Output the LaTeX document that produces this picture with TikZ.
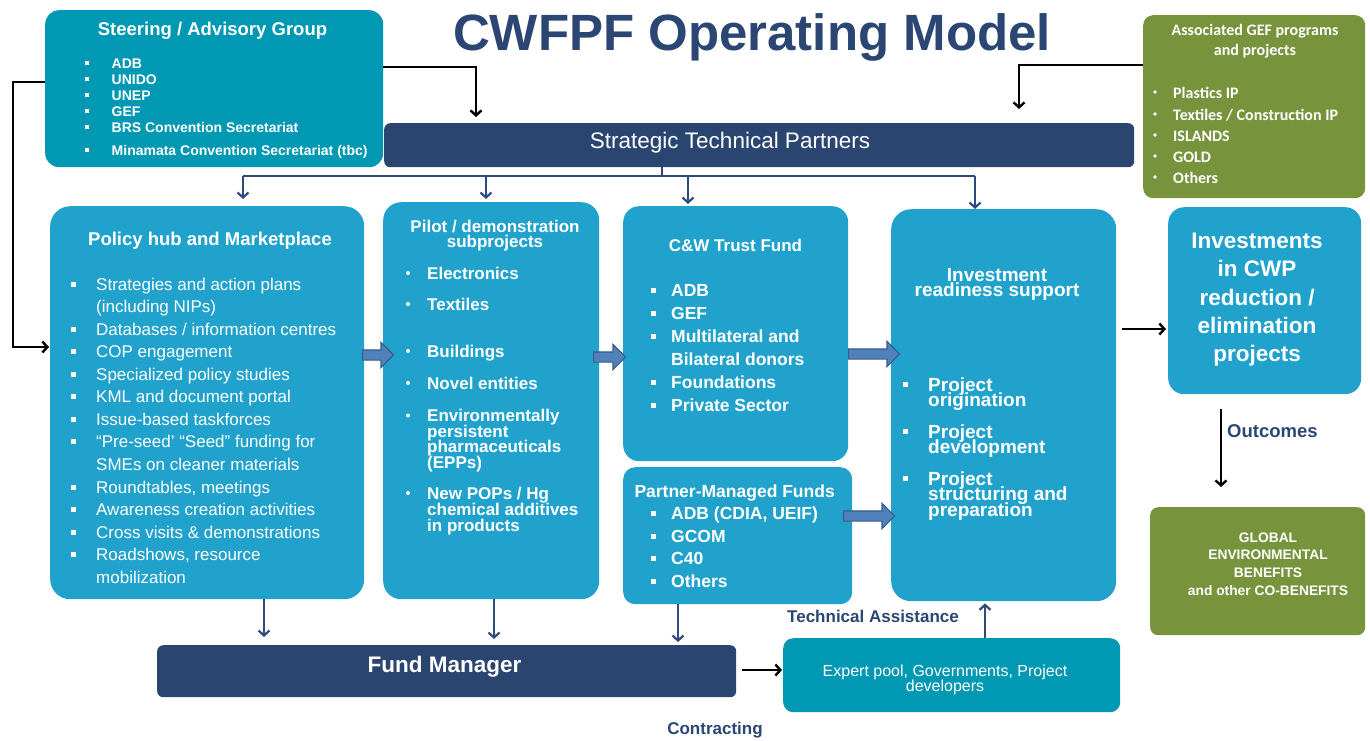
\documentclass[tikz,border=0pt]{standalone}
\usepackage{fontspec}
\setmainfont{Liberation Sans}
\newfontfamily\calfont{Carlito}
\usetikzlibrary{arrows.meta,shapes.arrows}

\definecolor{navy}{RGB}{42,69,112}
\definecolor{titlenavy}{RGB}{43,70,115}
\definecolor{tealbox}{RGB}{0,152,178}
\definecolor{skyblue}{RGB}{32,162,205}
\definecolor{olive}{RGB}{119,147,60}
\definecolor{linknavy}{RGB}{47,75,124}
\definecolor{blockfill}{RGB}{79,129,189}
\definecolor{blockedge}{RGB}{56,93,138}

\tikzset{
  box/.style={inner sep=0pt, anchor=north west, draw=none},
  wl/.style={text=white, inner sep=0pt, anchor=base west},
  wc/.style={text=white, inner sep=0pt, anchor=base},
  blackarrow/.style={draw=black, line width=2.7pt,
    -{Straight Barb[length=5pt,width=11pt,line width=2.4pt]}},
  navyarrow/.style={draw=linknavy, line width=2.4pt,
    -{Straight Barb[length=5pt,width=11pt,line width=2.2pt]}},
  navylink/.style={draw=linknavy, line width=2.4pt},
  blockarr/.style={single arrow, fill=blockfill, draw=blockedge, line width=1.2pt,
    inner sep=4.5pt, minimum width=0pt, single arrow head extend=7.5pt,
    single arrow head indent=0pt, anchor=tail},
}

\begin{document}
\begin{tikzpicture}[x=1pt,y=-1pt]
\useasboundingbox (0,0) rectangle (1370,740);
\fill[white] (0,0) rectangle (1370,740);

% ---------- title ----------
\node[anchor=base, inner sep=0pt, text=titlenavy,
      font=\fontsize{51}{51}\selectfont\bfseries] (title) at (752,50) {CWFPF Operating Model};

% ---------- boxes ----------
\node[box, fill=tealbox, rounded corners=14pt, minimum width=338pt, minimum height=157pt] (steer) at (45,10) {};
\node[box, fill=navy, rounded corners=6pt, minimum width=750pt, minimum height=44pt] (stp) at (384,123) {};
\node[box, fill=olive, rounded corners=10pt, minimum width=222pt, minimum height=183pt] (green) at (1143,15) {};
\node[box, fill=skyblue, rounded corners=20pt, minimum width=314pt, minimum height=393pt] (pol) at (50,206) {};
\node[box, fill=skyblue, rounded corners=18pt, minimum width=216pt, minimum height=397pt] (pil) at (383,202) {};
\node[box, fill=skyblue, rounded corners=16pt, minimum width=225pt, minimum height=255pt] (cw) at (623,206) {};
\node[box, fill=skyblue, rounded corners=12pt, minimum width=229pt, minimum height=137pt] (pmf) at (623,467) {};
\node[box, fill=skyblue, rounded corners=20pt, minimum width=225pt, minimum height=392pt] (ir) at (891,209) {};
\node[box, fill=skyblue, rounded corners=16pt, minimum width=193pt, minimum height=187pt] (inv) at (1168,207) {};
\node[box, fill=olive, rounded corners=8pt, minimum width=215pt, minimum height=128pt] (geb) at (1150,507) {};
\node[box, fill=navy, rounded corners=6pt, minimum width=579pt, minimum height=52pt] (fm) at (157,645) {};
\node[box, fill=tealbox, rounded corners=10pt, minimum width=337pt, minimum height=74pt] (exp) at (783,638) {};

% ---------- Steering / Advisory Group ----------
\node[wc, font=\fontsize{18.5}{18.5}\selectfont\bfseries] (steer-t) at (212.5,35) {Steering / Advisory Group};
\foreach \yy/\txt [count=\k] in {68/ADB, 84/UNIDO, 100/UNEP, 116/GEF,
    132/{BRS Convention Secretariat}, 155/{Minamata Convention Secretariat (tbc)}}{
  \node[wl, font=\fontsize{14}{14}\selectfont\bfseries] (steer-\k) at (111.5,\yy) {\txt};
  \fill[white] (85,\yy-7) rectangle ++(4,4);
}

% ---------- Strategic Technical Partners ----------
\node[wc, font=\fontsize{22.5}{22.5}\selectfont] (stp-t) at (730,148) {Strategic Technical Partners};

% ---------- Associated GEF programs ----------
\node[wc, font=\fontsize{16}{16}\selectfont\calfont\bfseries] (green-t1) at (1255,35) {Associated GEF programs};
\node[wc, font=\fontsize{16}{16}\selectfont\calfont\bfseries] (green-t2) at (1255,55) {and projects};
\foreach \yy/\txt [count=\k] in {98/{Plastics IP}, 120/{Textiles / Construction IP},
    141/ISLANDS, 162/GOLD, 183/Others}{
  \node[wl, font=\fontsize{16}{16}\selectfont\calfont\bfseries] (green-\k) at (1173,\yy) {\txt};
  \fill[white] (1155,\yy-6) circle (1.8);
}

% ---------- Policy hub and Marketplace ----------
\node[wc, font=\fontsize{18.5}{18.5}\selectfont\bfseries] (pol-t) at (210,245) {Policy hub and Marketplace};
\foreach \yy/\txt [count=\k] in {290/{Strategies and action plans}, 312/{(including NIPs)},
    335/{Databases / information centres}, 357/{COP engagement},
    380/{Specialized policy studies}, 402/{KML and document portal},
    425/{Issue-based taskforces}, 447/{“Pre-seed’ “Seed” funding for},
    470/{SMEs on cleaner materials}, 493/{Roundtables, meetings},
    515/{Awareness creation activities}, 538/{Cross visits \& demonstrations},
    560/{Roadshows, resource}, 583/{mobilization}}{
  \node[wl, font=\fontsize{17}{17}\selectfont] (pol-\k) at (96,\yy) {\txt};
}
\foreach \yy in {290,335,357,380,402,425,447,493,515,538,560}{
  \fill[white] (70.5,\yy-8.5) rectangle ++(5,5);
}

% ---------- Pilot / demonstration subprojects ----------
\node[wc, font=\fontsize{17}{17}\selectfont\bfseries] (pil-t1) at (495,232) {Pilot / demonstration};
\node[wc, font=\fontsize{17}{17}\selectfont\bfseries] (pil-t2) at (495,247) {subprojects};
\foreach \yy/\txt [count=\k] in {279/Electronics, 310/Textiles, 357/Buildings,
    389/{Novel entities}, 421.5/Environmentally, 437/persistent,
    452.5/pharmaceuticals, 468/{(EPPs)}, 499/{New POPs / Hg},
    515/{chemical additives}, 531/{in products}}{
  \node[wl, font=\fontsize{17}{17}\selectfont\bfseries] (pil-\k) at (427,\yy) {\txt};
}
\foreach \yy in {279,310,357,389,421.5,499}{
  \fill[white] (408,\yy-6) circle (2);
}

% ---------- C&W Trust Fund ----------
\node[wc, font=\fontsize{17}{17}\selectfont\bfseries] (cw-t) at (735.5,251.5) {C\&W Trust Fund};
\foreach \yy/\txt [count=\k] in {296/ADB, 319/GEF, 342/{Multilateral and},
    365/{Bilateral donors}, 388/Foundations, 411/{Private Sector}}{
  \node[wl, font=\fontsize{17.5}{17.5}\selectfont\bfseries] (cw-\k) at (671,\yy) {\txt};
}
\foreach \yy in {296,319,342,388,411}{
  \fill[white] (650.5,\yy-8.5) rectangle ++(5,5);
}

% ---------- Partner-Managed Funds ----------
\node[wl, font=\fontsize{17.5}{17.5}\selectfont\bfseries] (pmf-t) at (634.3,497) {Partner-Managed Funds};
\foreach \yy/\txt [count=\k] in {519/{ADB (CDIA, UEIF)}, 542/GCOM, 564/C40, 587/Others}{
  \node[wl, font=\fontsize{17.5}{17.5}\selectfont\bfseries] (pmf-\k) at (671,\yy) {\txt};
  \fill[white] (650.5,\yy-8.5) rectangle ++(5,5);
}

% ---------- Investment readiness support ----------
\node[wc, font=\fontsize{19}{19}\selectfont\bfseries] (ir-t1) at (997,281) {Investment};
\node[wc, font=\fontsize{19}{19}\selectfont\bfseries] (ir-t2) at (997,296.5) {readiness support};
\foreach \yy/\txt [count=\k] in {391/Project, 406.5/origination, 438/Project,
    453.5/development, 485/Project, 500.5/{structuring and}, 516/preparation}{
  \node[wl, font=\fontsize{19}{19}\selectfont\bfseries] (ir-\k) at (928,\yy) {\txt};
}
\foreach \yy in {391,438,485}{
  \fill[white] (902.5,\yy-9.5) rectangle ++(5,5);
}

% ---------- Investments in CWP ----------
\foreach \yy/\txt [count=\k] in {248/Investments, 276.5/{in CWP}, 305/{reduction /},
    333/elimination, 361/projects}{
  \node[wc, font=\fontsize{22.5}{22.5}\selectfont\bfseries] (inv-\k) at (1257,\yy) {\txt};
}

% ---------- Global environmental benefits ----------
\foreach \yy/\txt [count=\k] in {542/GLOBAL, 559.5/ENVIRONMENTAL, 577.5/BENEFITS,
    595/{and other CO-BENEFITS}}{
  \node[wc, font=\fontsize{13.8}{13.8}\selectfont\bfseries] (geb-\k) at (1268,\yy) {\txt};
}

% ---------- Fund Manager and expert pool ----------
\node[wc, font=\fontsize{22.5}{22.5}\selectfont\bfseries] (fm-t) at (444.5,672) {Fund Manager};
\node[wc, font=\fontsize{16}{16}\selectfont] (exp-t1) at (945,676) {Expert pool, Governments, Project};
\node[wc, font=\fontsize{16}{16}\selectfont] (exp-t2) at (945,691.5) {developers};

% ---------- free labels ----------
\node[anchor=base west, inner sep=0pt, text=titlenavy, font=\fontsize{18.5}{18.5}\selectfont\bfseries] (lab-out) at (1227,437) {Outcomes};
\node[anchor=base west, inner sep=0pt, text=titlenavy, font=\fontsize{17}{17}\selectfont\bfseries] (lab-ta) at (787,622) {Technical Assistance};
\node[anchor=base, inner sep=0pt, text=titlenavy, font=\fontsize{17}{17}\selectfont\bfseries] (lab-con) at (715,734) {Contracting};

% ---------- black connectors ----------
\coordinate (sk) at (476,67);
\draw[blackarrow, shorten >=6pt] (steer.east |- sk) -- (sk) -- (sk |- stp.north);
\coordinate (gk) at (1019,65);
\draw[blackarrow, shorten >=14pt] (green.west |- gk) -- (gk) -- (gk |- stp.north);
\coordinate (lk1) at (13,82);
\coordinate (lk2) at (13,347);
\draw[blackarrow, shorten >=1pt] (steer.west |- lk1) -- (lk1) -- (lk2) -- (pol.west |- lk2);
\coordinate (rk) at (0,329);
\draw[blackarrow, shorten <=6pt, shorten >=2pt] (ir.east |- rk) -- (inv.west |- rk);
\coordinate (ok) at (1221,0);
\draw[blackarrow, shorten <=15pt, shorten >=20pt] (inv.south -| ok) -- (geb.north -| ok);
\coordinate (fk) at (0,670);
\draw[blackarrow, shorten <=6pt, shorten >=1pt] (fm.east |- fk) -- (exp.west |- fk);

% ---------- navy distribution from Strategic Technical Partners ----------
\coordinate (bus0) at (662,176);
\coordinate (bus1) at (243,176);
\coordinate (bus2) at (486,176);
\coordinate (bus3) at (688,176);
\coordinate (bus4) at (975,176);
\draw[navylink] (stp.south -| bus0) -- (bus0);
\draw[navylink] (bus1) -- (bus4);
\draw[navyarrow, shorten >=7pt] (bus1) -- (bus1 |- pol.north);
\draw[navyarrow, shorten >=3pt] (bus2) -- (bus2 |- pil.north);
\draw[navyarrow, shorten >=2pt] (bus3) -- (bus3 |- cw.north);
\draw[navyarrow, shorten >=0pt] (bus4) -- (bus4 |- ir.north);

% ---------- navy arrows into the Fund Manager ----------
\coordinate (dk1) at (264,0);
\coordinate (dk2) at (494,0);
\coordinate (dk3) at (678,0);
\draw[navyarrow, shorten >=8pt] (pol.south -| dk1) -- (fm.north -| dk1);
\draw[navyarrow, shorten >=6pt] (pil.south -| dk2) -- (fm.north -| dk2);
\draw[navyarrow, shorten >=3pt] (pmf.south -| dk3) -- (fm.north -| dk3);

% ---------- technical assistance ----------
\coordinate (tk) at (985,0);
\draw[navyarrow, shorten >=2pt] (exp.north -| tk) -- (ir.south -| tk);

% ---------- block arrows between columns ----------
\node[blockarr, minimum height=31pt] (ba1) at (362,355) {};
\node[blockarr, minimum height=32pt] (ba2) at (593,357) {};
\node[blockarr, minimum height=51pt] (ba3) at (848,354) {};
\node[blockarr, minimum height=51pt] (ba4) at (843,516) {};
\end{tikzpicture}
\end{document}
